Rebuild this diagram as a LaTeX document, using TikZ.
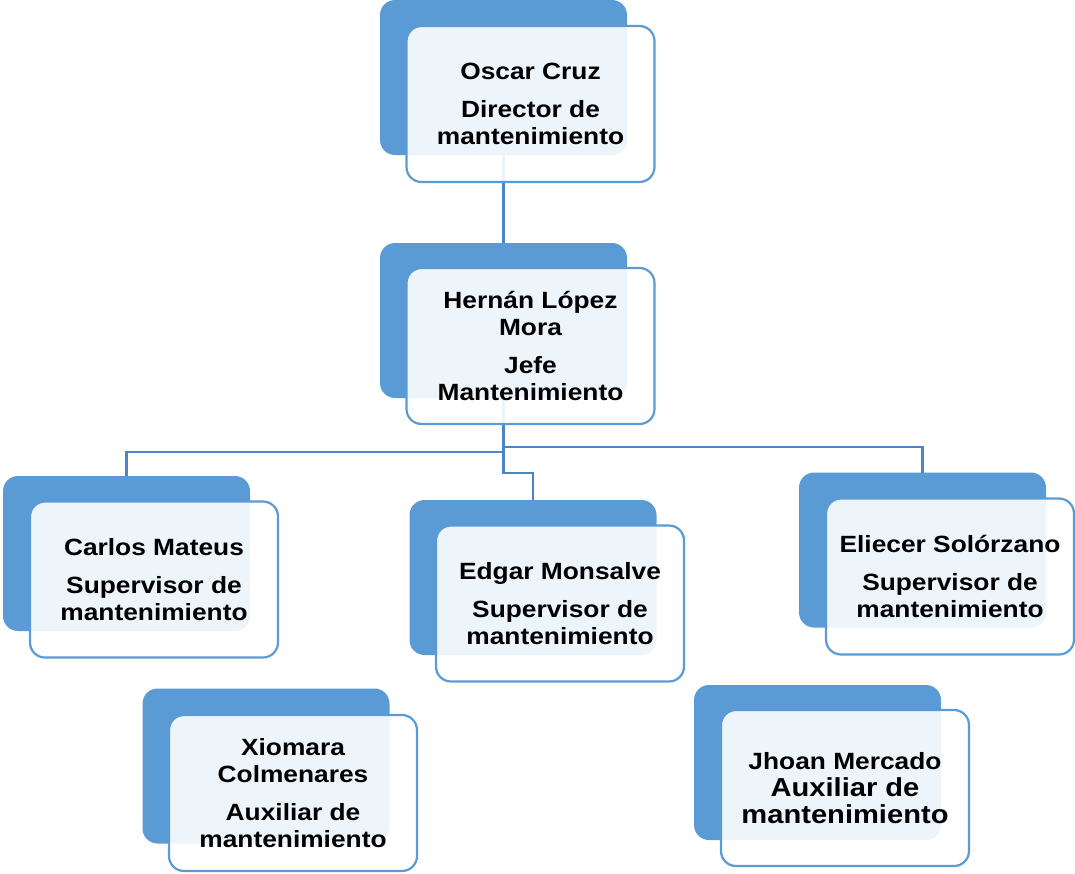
\documentclass[tikz,border=0pt]{standalone}
\usepackage{fontspec}
\newfontfamily\boxfont[FakeStretch=1.12]{Liberation Sans}
\definecolor{accent}{HTML}{5B9BD5}
\definecolor{linkblue}{HTML}{4A86C5}
\newcommand{\bigline}{\fontsize{26}{30}\selectfont}
\begin{document}
\begin{tikzpicture}[x=1pt,y=-1pt,
  backbox/.style={fill=accent, rounded corners=15pt, minimum width=247pt,
    minimum height=155pt, inner sep=0pt, outer sep=0pt},
  frontbox/.style={fill=white, fill opacity=0.9, draw=accent, draw opacity=1,
    text opacity=1, line width=2.2pt, rounded corners=15pt, minimum width=248pt,
    minimum height=156pt, inner sep=0pt, outer sep=0pt, align=center,
    font=\boxfont\bfseries\fontsize{23.5}{27}\selectfont, text=black},
  link/.style={draw=linkblue, line width=2.2pt}]
\useasboundingbox (0,0) rectangle (1075,873);

% back panels
\node[backbox] (oscB) at (503.5,77.5) {};
\node[backbox] (herB) at (503.5,320.5) {};
\node[backbox] (carB) at (126.5,553.5) {};
\node[backbox] (edgB) at (533,577.5) {};
\node[backbox] (eliB) at (922.5,550) {};
\node[backbox] (xioB) at (266,766) {};
\node[backbox] (jhoB) at (817.5,762.5) {};

% connectors
\draw[link] (oscB.south) -- (herB.north);
\draw[link] (herB.south) -- ++(0,54) -| (carB.north);
\draw[link] (herB.south) -- ++(0,49) -| (eliB.north);
\draw[link] (herB.south) -- ++(0,75) -| (edgB.north);

% front panels with text
\node[frontbox] (oscF) at (530.5,104) {Oscar Cruz\\[11pt]Director de\\mantenimiento};
\node[frontbox] (herF) at (530.5,346) {Hernán López\\Mora\\[11pt]Jefe\\Mantenimiento};
\node[frontbox] (carF) at (154,579.5) {Carlos Mateus\\[11pt]Supervisor de\\mantenimiento};
\node[frontbox] (edgF) at (560,603.5) {Edgar Monsalve\\[11pt]Supervisor de\\mantenimiento};
\node[frontbox] (eliF) at (950,576.5) {Eliecer Solórzano\\[11pt]Supervisor de\\mantenimiento};
\node[frontbox] (xioF) at (293,793) {Xiomara\\Colmenares\\[11pt]Auxiliar de\\mantenimiento};
\node[frontbox] (jhoF) at (845,788) {Jhoan Mercado\\\bigline Auxiliar de\\\bigline mantenimiento};
\end{tikzpicture}
\end{document}
